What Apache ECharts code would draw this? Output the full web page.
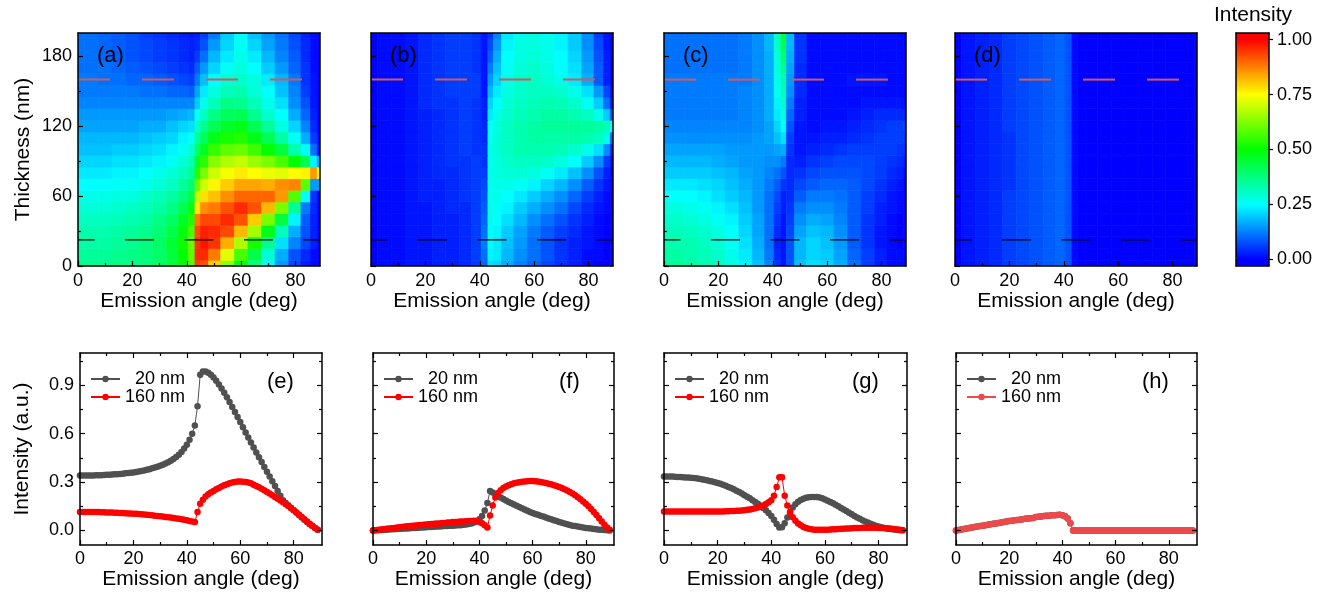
<!DOCTYPE html>
<html><head><meta charset="utf-8">
<script src="https://cdn.jsdelivr.net/npm/echarts@6/dist/echarts.min.js"></script>
<style>html,body{margin:0;padding:0;background:#fff;}#chart{width:1331px;height:598px;}</style>
</head><body><div id="chart"></div>
<script>
// ================= DATA =================
// heat maps: sample angles (deg) and thicknesses (nm); intensity in percent, rows = thickness 0..200
const mapAngles = [0,5,10,15,20,25,30,35,39,42,44,46,50,55,60,65,70,75,80,84,87,89];
const mapThickness = [0,10,20,30,40,50,60,70,80,90,100,110,120,130,140,150,160,170,180,190,200];

const mapA = [
[36,36,36,37,37,38,40,44,50,58, 94,92,80,64,50,38,26,15,7,3,1,0],
[35,35,35,36,37,38,40,44,50,59, 96,96,88,72,57,43,29,17,8,4,1,0],
[34,34,34,35,36,38,40,45,51,60, 95,98,95,83,67,52,36,22,13,7,3,0],
[33,33,33,34,35,36,39,43,49,57, 93,97,96,93,82,66,48,32,17,8,3,0],
[31,31,31,32,33,34,37,40,46,53, 88,93,93,96,92,80,62,44,24,9,3,0],
[29,29,29,30,31,32,34,37,42,48, 77,86,88,92,96,92,82,62,35,12,4,0],
[27,27,27,28,28,30,32,34,38,43, 68,78,81,86,90,90,90,85,58,25,5,0],
[25,25,25,26,26,27,29,31,35,39, 60,70,76,80,84,84,83,86,87,59,15,15],
[23,23,23,24,24,25,27,29,32,35, 53,62,70,74,77,75,73,72,75,76,85,75],
[21,21,21,22,22,23,24,26,29,32, 46,54,63,67,69,65,62,57,50,42,24,15],
[19,19,19,20,20,21,22,24,26,29, 40,47,55,59,60,56,50,44,33,26,11,2],
[18,18,18,18,18,19,20,21,24,26, 35,41,48,52,53,48,42,34,26,17,6,1],
[16,16,16,16,16,17,17,19,21,22, 30,36,42,46,48,42,35,28,21,13,4,0],
[15,15,15,15,15,15,15,16,17,18, 25,31,37,41,42,36,30,25,17,10,3,0],
[13,13,13,13,13,13,13,13,13,13, 20,27,32,37,36,32,27,22,14,8,2,0],
[12,12,12,12,12,11,11,10,10,9, 16,23,28,32,33,29,25,19,13,6,2,0],
[12,12,11,11,10,10,9,8,7,6, 12,19,25,29,30,28,23,18,12,5,2,0],
[11,11,11,10,9,8,7,6,5,4, 9,15,21,26,28,25,20,15,10,5,1,0],
[11,11,10,9,8,7,6,5,4,3, 6,11,18,23,27,23,18,13,9,4,1,0],
[11,11,10,9,8,7,6,5,4,3, 4,8,15,21,26,21,16,12,8,4,1,0],
[11,11,10,9,8,6,5,4,3,2, 3,6,12,20,25,19,15,11,7,3,1,0]
];
const mapB = [
[0,1,1,2,2,3,3,4,6,10, 22,21,17,13,10,7,5,3,1,0,0,0],
[0,1,1,2,2,3,3,4,6,11, 24,23,18,14,11,8,5,3,1,1,0,0],
[0,1,1,2,2,3,3,4,6,12, 25,23,19,15,11,8,5,3,2,1,0,0],
[0,1,1,2,2,3,3,4,6,11, 26,24,20,16,12,9,6,4,2,1,0,0],
[0,1,1,2,2,3,3,4,6,10, 27,25,22,18,14,11,8,5,3,1,0,0],
[0,1,1,2,2,3,4,4,6,9, 27,26,24,20,17,14,11,7,4,2,1,0],
[0,1,1,2,3,3,4,5,6,8, 27,27,25,23,20,17,14,10,6,3,1,0],
[0,1,1,2,3,3,4,5,6,7, 27,27,27,26,24,21,18,14,9,5,2,0],
[0,1,1,2,3,4,4,5,6,6, 27,28,29,29,28,26,23,19,14,8,3,0],
[0,1,1,2,3,4,5,5,6,5, 27,28,30,31,31,30,28,25,20,14,6,1],
[0,1,1,2,3,4,5,6,5,5, 27,29,31,33,33,33,32,30,27,22,14,3],
[0,1,1,2,3,4,5,6,5,4, 26,29,31,33,34,34,34,34,33,31,27,10],
[0,1,1,2,3,4,5,6,5,4, 25,28,31,33,34,35,35,35,35,34,32,25],
[0,1,1,2,3,4,5,6,5,3, 23,27,30,32,33,34,34,33,31,27,20,8],
[0,1,1,2,4,5,5,6,5,3, 21,25,29,31,32,33,32,30,26,20,11,2],
[0,1,1,2,4,5,6,6,6,2, 18,23,28,30,31,31,30,27,22,15,7,1],
[0,1,1,2,4,5,6,6,6,2, 15,21,27,30,31,29,27,23,17,9,3,0],
[0,1,1,2,4,5,6,6,5,2, 12,19,26,29,30,28,25,22,16,9,3,0],
[0,1,1,2,4,5,6,6,5,2, 9,17,25,28,29,27,25,21,15,8,3,0],
[0,1,1,2,4,5,6,6,5,2, 7,15,24,28,28,27,24,20,14,7,2,0],
[0,1,1,2,4,5,6,6,5,2, 5,13,23,27,28,26,24,20,14,6,2,0]
];
const mapC = [
[35,35,34,33,31,28,24,19,13,5, 2,8,19,22,21,17,11,6,3,1,1,0],
[34,34,33,32,30,27,23,18,12,4, 2,8,18,21,20,16,10,6,3,1,1,0],
[33,33,33,31,29,26,22,17,11,3, 2,8,18,21,19,15,9,5,2,1,0,0],
[32,32,31,30,28,25,21,16,11,4, 2,7,16,19,18,14,9,5,2,1,0,0],
[30,30,29,28,26,24,20,16,11,5, 2,6,14,17,16,13,9,5,3,1,0,0],
[28,28,27,26,24,22,19,15,11,6, 3,5,12,14,14,12,9,6,3,2,1,0],
[25,25,25,24,22,20,18,15,11,7, 3,4,9,12,12,11,9,6,4,2,1,0],
[23,23,23,22,21,19,17,15,12,9, 5,4,7,9,10,10,9,7,5,3,2,0],
[20,20,20,20,19,18,16,15,13,11, 8,4,5,7,8,8,8,7,6,4,3,1],
[18,18,18,18,17,16,15,15,14,14, 12,4,3,5,6,7,7,7,6,5,4,2],
[16,16,16,16,16,15,15,15,15,16, 17,5,2,3,4,5,6,6,6,6,5,4],
[14,14,14,14,14,14,14,15,16,19, 22,6,2,2,3,3,4,5,6,6,6,5],
[13,13,13,13,13,13,13,14,16,21, 25,8,2,1,2,2,3,4,5,6,6,6],
[12,12,12,12,12,12,13,14,17,23, 28,10,3,1,1,1,2,3,4,4,4,3],
[12,12,12,12,12,12,13,14,17,24, 30,12,3,1,1,1,1,2,2,2,2,1],
[12,12,12,12,12,12,13,14,17,26, 32,14,4,1,1,1,1,1,1,1,1,0],
[12,12,12,12,12,12,12,14,17,27, 33,15,4,1,1,1,2,2,2,1,1,0],
[11,11,11,11,11,11,12,14,17,28, 36,16,4,1,1,1,1,1,1,1,1,0],
[11,11,11,11,11,11,12,14,17,29, 39,17,5,1,1,1,1,1,1,1,1,0],
[11,11,11,11,11,11,12,14,18,30, 42,18,5,1,1,1,1,1,1,1,1,0],
[11,11,11,11,11,11,12,14,18,31, 45,18,5,1,1,1,1,1,1,1,1,0]
];
const mapD = [
[0,2,3,4,6,7,8,9,10,8, 1,0,0,0,0,0,0,0,0,0,0,0],
[0,2,3,4,6,7,8,9,10,8, 1,0,0,0,0,0,0,0,0,0,0,0],
[0,2,3,4,6,7,8,9,10,8, 1,0,0,0,0,0,0,0,0,0,0,0],
[0,2,3,4,6,7,8,9,10,8, 1,0,0,0,0,0,0,0,0,0,0,0],
[0,2,3,4,6,7,8,9,10,8, 1,0,0,0,0,0,0,0,0,0,0,0],
[0,2,3,4,6,7,8,9,10,8, 1,0,0,0,0,0,0,0,0,0,0,0],
[0,2,3,4,6,7,8,9,10,8, 1,0,0,0,0,0,0,0,0,0,0,0],
[0,2,3,4,5,7,8,9,10,8, 1,0,0,0,0,0,0,0,0,0,0,0],
[0,2,3,4,5,7,8,9,10,8, 1,0,0,0,0,0,0,0,0,0,0,0],
[0,2,3,4,5,7,8,9,10,8, 1,0,0,0,0,0,0,0,0,0,0,0],
[0,2,3,4,5,7,8,9,10,8, 1,0,0,0,0,0,0,0,0,0,0,0],
[0,2,3,4,5,7,8,9,10,8, 1,0,0,0,0,0,0,0,0,0,0,0],
[0,2,3,4,6,7,8,9,10,8, 1,0,0,0,0,0,0,0,0,0,0,0],
[0,2,3,4,6,7,8,9,10,8, 1,0,0,0,0,0,0,0,0,0,0,0],
[0,2,3,4,6,7,8,9,10,8, 1,0,0,0,0,0,0,0,0,0,0,0],
[0,2,3,4,6,7,8,9,10,8, 1,0,0,0,0,0,0,0,0,0,0,0],
[0,2,3,4,6,7,8,9,10,8, 1,0,0,0,0,0,0,0,0,0,0,0],
[0,2,3,4,6,7,8,9,10,8, 1,0,0,0,0,0,0,0,0,0,0,0],
[0,2,3,4,6,7,8,9,10,8, 1,0,0,0,0,0,0,0,0,0,0,0],
[0,2,3,4,6,7,8,9,10,8, 1,0,0,0,0,0,0,0,0,0,0,0],
[0,2,3,4,6,7,8,9,10,8, 1,0,0,0,0,0,0,0,0,0,0,0]
];

// line cuts: emission angle 0..89 deg
const lineAngles = [0,1,2,3,4,5,6,7,8,9,10,11,12,13,14,15,16,17,18,19,20,21,22,23,24,25,26,27,28,29,
30,31,32,33,34,35,36,37,38,39,40,41,42,43,44,45,46,47,48,49,50,51,52,53,54,55,56,57,58,59,
60,61,62,63,64,65,66,67,68,69,70,71,72,73,74,75,76,77,78,79,80,81,82,83,84,85,86,87,88,89];

const e20 = [.340,.340,.340,.341,.341,.341,.342,.343,.343,.344,
.345,.346,.347,.348,.349,.350,.352,.354,.356,.358,
.360,.363,.366,.369,.372,.376,.380,.385,.390,.395,
.401,.408,.415,.423,.432,.443,.455,.469,.487,.508,
.532,.562,.600,.650,.770,.965,.985,.985,.978,.965,
.948,.928,.905,.880,.853,.825,.796,.766,.735,.704,
.672,.640,.608,.577,.546,.515,.484,.454,.424,.394,
.364,.334,.305,.275,.245,.216,.188,.170,.156,.141,
.126,.111,.096,.081,.066,.052,.039,.027,.015,.005];
const e160 = [.115,.115,.115,.115,.115,.114,.114,.114,.113,.113,
.112,.112,.111,.110,.110,.109,.108,.107,.106,.105,
.104,.103,.102,.100,.099,.097,.096,.094,.092,.090,
.088,.086,.084,.082,.080,.077,.075,.072,.069,.066,
.063,.059,.055,.052,.115,.165,.190,.210,.225,.235,
.245,.255,.264,.272,.280,.287,.293,.298,.301,.303,
.303,.302,.300,.297,.292,.283,.276,.268,.259,.249,
.239,.229,.219,.208,.197,.186,.175,.163,.151,.138,
.125,.111,.097,.083,.069,.055,.042,.029,.016,.005];
const f20 = [.000,.001,.002,.003,.004,.005,.006,.007,.008,.009,
.010,.011,.012,.013,.014,.015,.016,.017,.018,.019,
.020,.021,.022,.023,.024,.025,.026,.027,.028,.029,
.030,.031,.032,.033,.035,.037,.040,.044,.050,.058,
.070,.090,.124,.170,.245,.235,.225,.215,.205,.195,
.186,.177,.169,.161,.153,.145,.138,.130,.123,.115,
.108,.102,.097,.091,.086,.080,.074,.069,.063,.058,
.052,.048,.043,.039,.034,.030,.027,.024,.021,.019,
.016,.014,.012,.009,.007,.005,.004,.003,.001,.000];
const f160 = [.000,.002,.004,.006,.008,.010,.012,.014,.016,.018,
.020,.022,.024,.026,.028,.030,.031,.033,.034,.036,
.037,.038,.040,.041,.043,.044,.046,.047,.049,.050,
.052,.053,.054,.055,.056,.057,.058,.059,.060,.059,
.052,.045,.033,.018,.093,.155,.205,.232,.250,.263,
.273,.281,.287,.292,.296,.299,.302,.304,.305,.306,
.306,.305,.303,.300,.297,.294,.290,.286,.281,.276,
.270,.263,.256,.248,.239,.229,.218,.206,.193,.180,
.166,.150,.133,.115,.096,.076,.056,.036,.018,.004];
const g20 = [.335,.335,.334,.334,.333,.332,.331,.330,.329,.328,
.327,.325,.323,.320,.317,.314,.311,.307,.303,.299,
.294,.289,.283,.277,.270,.263,.255,.247,.238,.229,
.219,.209,.199,.188,.177,.166,.153,.140,.125,.108,
.089,.066,.040,.018,.020,.045,.080,.112,.143,.163,
.178,.189,.197,.203,.206,.208,.208,.207,.205,.199,
.192,.185,.177,.169,.160,.150,.140,.130,.120,.110,
.100,.090,.081,.072,.064,.056,.049,.042,.036,.030,
.025,.020,.016,.013,.010,.008,.006,.004,.002,.001];
const g160 = [.117,.117,.117,.117,.117,.117,.117,.117,.117,.117,
.117,.117,.117,.117,.117,.117,.117,.117,.117,.118,
.118,.118,.118,.119,.119,.120,.121,.122,.123,.124,
.126,.128,.130,.133,.137,.142,.148,.155,.164,.175,
.188,.215,.270,.330,.330,.215,.155,.114,.082,.060,
.044,.032,.022,.015,.010,.007,.005,.004,.004,.004,
.004,.005,.006,.007,.008,.009,.010,.011,.012,.013,
.014,.015,.016,.016,.017,.017,.017,.017,.017,.017,
.016,.016,.015,.014,.012,.010,.008,.006,.004,.002];
const h160 = [.000,.003,.006,.009,.012,.015,.018,.021,.024,.027,
.030,.033,.036,.039,.041,.044,.047,.050,.052,.055,
.058,.060,.063,.065,.067,.070,.072,.074,.076,.078,
.083,.085,.087,.089,.091,.092,.094,.095,.096,.097,
.095,.088,.074,.045,.000,.000,.000,.000,.000,.000,
.000,.000,.000,.000,.000,.000,.000,.000,.000,.000,
.000,.000,.000,.000,.000,.000,.000,.000,.000,.000,
.000,.000,.000,.000,.000,.000,.000,.000,.000,.000,
.000,.000,.000,.000,.000,.000,.000,.000,.000,.000];
const h20 = [.000,.003,.006,.009,.012,.015,.018,.021,.024,.027,
.030,.033,.036,.039,.041,.044,.047,.050,.052,.055,
.058,.060,.063,.065,.067,.070,.072,.074,.076,.078,
.083,.085,.087,.089,.091,.092,.094,.095,.096,.097,
.095,.088,.074,.045,.000,.000,.000,.000,.000,.000,
.000,.000,.000,.000,.000,.000,.000,.000,.000,.000,
.000,.000,.000,.000,.000,.000,.000,.000,.000,.000,
.000,.000,.000,.000,.000,.000,.000,.000,.000,.000,
.000,.000,.000,.000,.000,.000,.000,.000,.000,.000];

// ticks and labels
const angleTicks = [0,20,40,60,80];
const angleMinorTicks = [10,30,50,70];
const thickTicks = [0,60,120,180];
const thickMinorTicks = [30,90,150];
const intensityTicks = [0,0.3,0.6,0.9];
const intensityMinorTicks = [0.15,0.45,0.75,1.05];
const colorbarTicks = [0,0.25,0.5,0.75,1];
const cutThickness = [22.5,160];           // dashed cut lines as drawn (20 nm, 160 nm)
const mapLabels = ['(a)','(b)','(c)','(d)'];
const lineLabels = ['(e)','(f)','(g)','(h)'];
const legendNames = ['20 nm','160 nm'];
const jet = ['#0000ff','#0080ff','#00ffff','#00ff80','#00ff00','#80ff00','#ffff00','#ff8000','#ff0000'];

// ================= BUILD =================
const FONT = '"Liberation Sans", Arial, Helvetica, sans-serif';
const maps = [mapA, mapB, mapC, mapD];
const lines = [[e20,e160],[f20,f160],[g20,g160],[h20,h160]];
const lineColors = [['#505050','#ff0000'],['#505050','#ff0000'],['#505050','#ff0000'],['#505050','#ec4a4a']];
const TOPG = [[78,242],[371,242],[664,242],[955,242]];
const BOTG = [[80,242],[373,241],[664,243],[956,241]];

function edges(c){ const e=[c[0]]; for(let i=0;i<c.length-1;i++) e.push((c[i]+c[i+1])/2); e.push(c[c.length-1]); return e; }
function cells(m){
  const ae = edges(mapAngles), te = edges(mapThickness), out = [];
  m.forEach((row,r)=>row.forEach((v,c)=>out.push([ae[c],ae[c+1],te[r],te[r+1],v/100])));
  return out;
}
const grids=[], xAxes=[], yAxes=[], series=[], legends=[], graphics=[], heatIdx=[];
const LINE = {color:'#000', width:1.5};
const SHOWLINE = {show:true, onZero:false, lineStyle:LINE};
function axis(o){ return Object.assign({type:'value', z:10, splitLine:{show:false}, axisLine:{show:false, onZero:false}, axisTick:{show:false}, axisLabel:{show:false}}, o); }
function ticks(vals,len,inside){ return {show:true, inside: inside!==false, length:len, customValues:vals, lineStyle:{color:'#000', width:1.2}}; }
function labels(vals,fmt,margin){ return {show:true, customValues:vals, formatter:fmt, color:'#000', fontSize:18, fontFamily:FONT, margin:margin}; }
const nameStyle = {fontSize:21, color:'#000', fontFamily:FONT};

// top row: heat maps
for(let i=0;i<4;i++){
  const gi = grids.length;
  grids.push({left:TOPG[i][0], width:TOPG[i][1], top:33, height:233});
  const xi = xAxes.length;
  xAxes.push(axis({gridIndex:gi, position:'bottom', min:0, max:89, axisLine:SHOWLINE,
    axisTick:ticks(angleTicks,5), axisLabel:labels(angleTicks, v=>String(v), 6),
    name:'Emission angle (deg)', nameLocation:'middle', nameGap:24, nameTextStyle:nameStyle}));
  xAxes.push(axis({gridIndex:gi, position:'bottom', min:0, max:89, axisTick:ticks(angleMinorTicks,3)}));
  xAxes.push(axis({gridIndex:gi, position:'top', min:0, max:89, axisLine:SHOWLINE}));
  const yi = yAxes.length;
  yAxes.push(axis({gridIndex:gi, position:'left', min:0, max:200, axisLine:SHOWLINE,
    axisTick:ticks(thickTicks,5), axisLabel: i===0 ? labels(thickTicks, v=>String(v), 6) : {show:false},
    name: i===0 ? 'Thickness (nm)' : '', nameLocation:'middle', nameGap:44, nameRotate:90, nameTextStyle:nameStyle}));
  yAxes.push(axis({gridIndex:gi, position:'left', min:0, max:200, axisTick:ticks(thickMinorTicks,3)}));
  yAxes.push(axis({gridIndex:gi, position:'right', min:0, max:200, axisLine:SHOWLINE}));

  heatIdx.push(series.length);
  series.push({type:'custom', xAxisIndex:xi, yAxisIndex:yi, silent:true, z:1, clip:true,
    encode:{x:[0,1], y:[2,3]}, data:cells(maps[i]),
    renderItem:function(params, api){
      const p0 = api.coord([api.value(0), api.value(3)]);
      const p1 = api.coord([api.value(1), api.value(2)]);
      const col = api.visual('color');
      return {type:'rect', shape:{x:p0[0], y:p0[1], width:p1[0]-p0[0], height:p1[1]-p0[1]},
        style:{fill:col, stroke:col, lineWidth:0.7}};
    }});
  series.push({type:'line', xAxisIndex:xi, yAxisIndex:yi, silent:true, z:5, symbol:'none', animation:false,
    data:[[0,cutThickness[0]],[89,cutThickness[0]]],
    lineStyle:{color:'#000', width:1.3, type:[29,30.5], dashOffset:12.5}});
  series.push({type:'line', xAxisIndex:xi, yAxisIndex:yi, silent:true, z:5, symbol:'none', animation:false,
    data:[[0,cutThickness[1]],[89,cutThickness[1]]],
    lineStyle:{color:'#d2585a', width:2, type:[32,32], dashOffset:0}});
  graphics.push({type:'text', x:TOPG[i][0]+19, y:56, z:100,
    style:{text:mapLabels[i], fontSize:22, fontFamily:FONT, fill:'#000', verticalAlign:'middle', align:'left'}});
}

// bottom row: line cuts
for(let i=0;i<4;i++){
  const gi = grids.length;
  grids.push({left:BOTG[i][0], width:BOTG[i][1], top:353, height:192});
  const xi = xAxes.length;
  xAxes.push(axis({gridIndex:gi, position:'bottom', min:0, max:90.6, axisLine:SHOWLINE,
    axisTick:ticks(angleTicks,5), axisLabel:labels(angleTicks, v=>String(v), 5),
    name:'Emission angle (deg)', nameLocation:'middle', nameGap:18, nameTextStyle:nameStyle}));
  xAxes.push(axis({gridIndex:gi, position:'bottom', min:0, max:90.6, axisTick:ticks(angleMinorTicks,3)}));
  xAxes.push(axis({gridIndex:gi, position:'top', min:0, max:90.6, axisLine:SHOWLINE, axisTick:ticks(angleTicks,5)}));
  xAxes.push(axis({gridIndex:gi, position:'top', min:0, max:90.6, axisTick:ticks(angleMinorTicks,3)}));
  const yi = yAxes.length;
  yAxes.push(axis({gridIndex:gi, position:'left', min:-0.09, max:1.1, axisLine:SHOWLINE,
    axisTick:ticks(intensityTicks,5), axisLabel: i===0 ? labels(intensityTicks, v=>v.toFixed(1), 6) : {show:false},
    name: i===0 ? 'Intensity (a.u.)' : '', nameLocation:'middle', nameGap:47, nameRotate:90, nameTextStyle:nameStyle}));
  yAxes.push(axis({gridIndex:gi, position:'left', min:-0.09, max:1.1, axisTick:ticks(intensityMinorTicks,3)}));
  yAxes.push(axis({gridIndex:gi, position:'right', min:-0.09, max:1.1, axisLine:SHOWLINE, axisTick:ticks(intensityTicks,5)}));
  yAxes.push(axis({gridIndex:gi, position:'right', min:-0.09, max:1.1, axisTick:ticks(intensityMinorTicks,3)}));

  const tag = 'efgh'[i];
  const names = [];
  lines[i].forEach((vals,k)=>{
    const nm = tag + '-' + legendNames[k];
    names.push(nm);
    series.push({type:'line', name:nm, xAxisIndex:xi, yAxisIndex:yi, z:3+k, silent:true, animation:false,
      data: lineAngles.map((a,j)=>[a, vals[j]]),
      symbol:'circle', symbolSize:6.5, showSymbol:true,
      itemStyle:{color:lineColors[i][k]}, lineStyle:{color:lineColors[i][k], width:1}});
  });
  legends.push({data:names, orient:'vertical', left:BOTG[i][0]+10, top:370, padding:0,
    itemWidth:29, itemHeight:8, itemGap:0, selectedMode:false,
    textStyle:{fontSize:18, color:'#000', fontFamily:FONT, lineHeight:17.5},
    formatter: n => (n.endsWith('160 nm') ? '160 nm' : '  20 nm')});
  graphics.push({type:'text', x:BOTG[i][0]+BOTG[i][1]-55, y:382, z:100,
    style:{text:lineLabels[i], fontSize:22, fontFamily:FONT, fill:'#000', verticalAlign:'middle', align:'left'}});
}

// colour bar: frame, end caps and axis (0..1 spans 39.5..259.5 px)
{
  const gi = grids.length;
  grids.push({left:1236, width:33, top:33, height:233});
  xAxes.push(axis({gridIndex:gi, position:'bottom', min:0, max:1, axisLine:SHOWLINE}));
  xAxes.push(axis({gridIndex:gi, position:'top', min:0, max:1, axisLine:SHOWLINE}));
  yAxes.push(axis({gridIndex:gi, position:'left', min:-0.03, max:1.03, axisLine:SHOWLINE}));
  yAxes.push(axis({gridIndex:gi, position:'right', min:-0.03, max:1.03, axisLine:SHOWLINE,
    axisTick:ticks(colorbarTicks,4,false), axisLabel:labels(colorbarTicks, v=>v.toFixed(2), 8)}));
  graphics.push({type:'rect', z:5, shape:{x:1236, y:33, width:33, height:7}, style:{fill:jet[jet.length-1]}});
  graphics.push({type:'rect', z:5, shape:{x:1236, y:259, width:33, height:7}, style:{fill:jet[0]}});
  graphics.push({type:'text', x:1253, y:15, z:100,
    style:{text:'Intensity', fontSize:21, fontFamily:FONT, fill:'#000', verticalAlign:'middle', align:'center'}});
}

const option = {
  animation:false,
  backgroundColor:'#fff',
  textStyle:{fontFamily:FONT},
  grid:grids, xAxis:xAxes, yAxis:yAxes, series:series, legend:legends, graphic:graphics,
  visualMap:[{type:'continuous', min:0, max:1, dimension:4, seriesIndex:heatIdx,
    inRange:{color:jet}, calculable:false, hoverLink:false, itemWidth:33, itemHeight:220,
    left:1236, top:39.5, padding:0, orient:'vertical', text:null, showLabel:false}]
};
const chart = echarts.init(document.getElementById('chart'), null, {renderer:'canvas', width:1331, height:598});
chart.setOption(option);
</script></body></html>
